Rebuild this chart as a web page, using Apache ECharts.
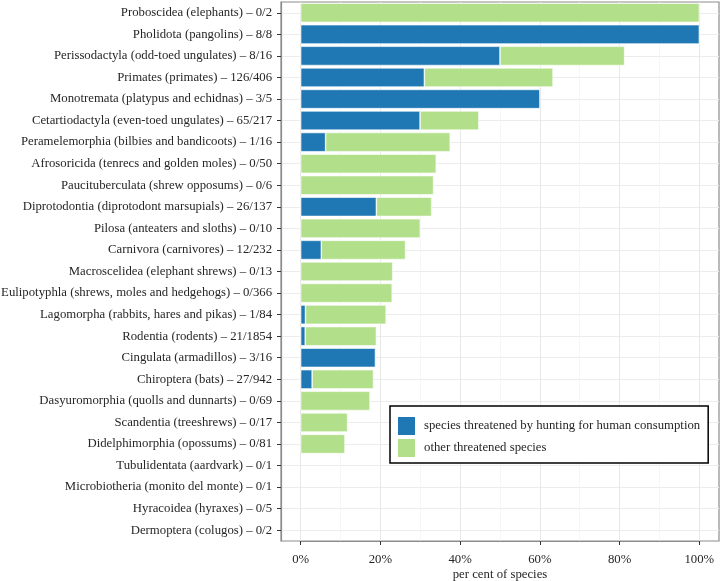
<!DOCTYPE html>
<html>
<head>
<meta charset="utf-8">
<script src="https://cdn.jsdelivr.net/npm/echarts@6/dist/echarts.min.js"></script>
<style>
  html, body { margin: 0; padding: 0; background: #fff; }
  #chart { width: 720px; height: 581px; }
</style>
</head>
<body>
<div id="chart"></div>
<script>
// orders, top to bottom
var categories = [
    'Proboscidea (elephants) – 0/2',
    'Pholidota (pangolins) – 8/8',
    'Perissodactyla (odd-toed ungulates) – 8/16',
    'Primates (primates) – 126/406',
    'Monotremata (platypus and echidnas) – 3/5',
    'Cetartiodactyla (even-toed ungulates) – 65/217',
    'Peramelemorphia (bilbies and bandicoots) – 1/16',
    'Afrosoricida (tenrecs and golden moles) – 0/50',
    'Paucituberculata (shrew opposums) – 0/6',
    'Diprotodontia (diprotodont marsupials) – 26/137',
    'Pilosa (anteaters and sloths) – 0/10',
    'Carnivora (carnivores) – 12/232',
    'Macroscelidea (elephant shrews) – 0/13',
    'Eulipotyphla (shrews, moles and hedgehogs) – 0/366',
    'Lagomorpha (rabbits, hares and pikas) – 1/84',
    'Rodentia (rodents) – 21/1854',
    'Cingulata (armadillos) – 3/16',
    'Chiroptera (bats) – 27/942',
    'Dasyuromorphia (quolls and dunnarts) – 0/69',
    'Scandentia (treeshrews) – 0/17',
    'Didelphimorphia (opossums) – 0/81',
    'Tubulidentata (aardvark) – 0/1',
    'Microbiotheria (monito del monte) – 0/1',
    'Hyracoidea (hyraxes) – 0/5',
    'Dermoptera (colugos) – 0/2'
];

// per cent of species threatened by hunting for human consumption
var hunted = [0, 100, 50, 31.03, 60, 29.95, 6.25, 0, 0, 18.98, 0, 5.17, 0,
    0, 1.19, 1.13, 18.75, 2.87, 0, 0, 0, 0, 0, 0, 0];
// per cent of species threatened by other causes
var other = [100, 0, 31.25, 32.27, 0, 14.75, 31.25, 34, 33.33, 13.87, 30, 21.12, 23.08,
    22.95, 20.24, 17.86, 0, 15.39, 17.39, 11.76, 11.11, 0, 0, 0, 0];

var xTicks = [0, 20, 40, 60, 80, 100];

var seriesNames = ['species threatened by hunting for human consumption', 'other threatened species'];
var colors = ['#1f78b4', '#b2df8a'];

var FONT = 'Liberation Serif';
var FSIZE = 12.75;
var TEXT = '#262626';
var FRAME = '#8c8c8c';
var GRID_TOP = 2, GRID_BOTTOM = 40;

// zero-length bars would still draw their outline
function skipZero(arr){
    return arr.map(function(v){ return v > 0 ? v : null; });
}

var chart = echarts.init(document.getElementById('chart'));

chart.setOption({
    animation: false,
    backgroundColor: '#fff',
    textStyle: {fontFamily: FONT},
    legend: {
        data: seriesNames,
        orient: 'vertical',
        left: 390, top: 406,
        itemWidth: 19, itemHeight: 20, itemGap: 0,
        icon: 'rect',
        padding: [9, 8, 4, 6],
        borderColor: '#000', borderWidth: 1.5,
        backgroundColor: '#fff',
        textStyle: {fontFamily: FONT, fontSize: FSIZE, color: TEXT, padding: [0, 0, 0, 3], lineHeight: 20},
        selectedMode: false
    },
    grid: [
        // panel frame, runs past 0 and 100 like ggplot's expansion
        {left: 281, right: 1, top: GRID_TOP, bottom: GRID_BOTTOM,
         show: true, borderColor: FRAME, borderWidth: 1.2,
         containLabel: false, outerBoundsMode: 'none'},
        // data area, 0..100 %
        {left: 300.7, right: 20.7, top: GRID_TOP, bottom: GRID_BOTTOM,
         containLabel: false, outerBoundsMode: 'none'}
    ],
    xAxis: [
        {gridIndex: 0, type: 'value', min: -5, max: 105, show: false},
        {
            gridIndex: 1, type: 'value', min: 0, max: 100, interval: 20,
            name: 'per cent of species', nameLocation: 'middle', nameGap: 27,
            nameMoveOverlap: false,
            nameTextStyle: {fontFamily: FONT, fontSize: FSIZE, color: TEXT},
            axisLine: {show: true, lineStyle: {color: FRAME, width: 1.2}},
            axisTick: {show: true, length: 4, lineStyle: {color: '#333'}},
            axisLabel: {
                margin: 12, fontFamily: FONT, fontSize: FSIZE, color: TEXT,
                formatter: function(v){ return xTicks.indexOf(v) >= 0 ? v + '%' : ''; }
            },
            splitLine: {show: true, lineStyle: {color: '#e8e8e8', width: 1}},
            minorTick: {show: false, splitNumber: 2},
            minorSplitLine: {show: true, lineStyle: {color: '#f2f2f2', width: 0.7}}
        }
    ],
    yAxis: [
        {
            gridIndex: 0, type: 'category', inverse: true, data: categories,
            axisLine: {show: true, onZero: false, lineStyle: {color: FRAME, width: 1.2}},
            axisTick: {show: true, length: 4, alignWithLabel: true, lineStyle: {color: '#333'}},
            axisLabel: {margin: 9, fontFamily: FONT, fontSize: FSIZE, color: TEXT, interval: 0},
            splitLine: {show: true, alignWithLabel: true, lineStyle: {color: '#ececec', width: 1}}
        },
        {gridIndex: 1, type: 'category', inverse: true, data: categories, show: false}
    ],
    series: [
        {
            name: seriesNames[0], type: 'bar', stack: 'pct',
            xAxisIndex: 1, yAxisIndex: 1,
            data: skipZero(hunted), barWidth: '89%',
            itemStyle: {color: colors[0], borderColor: '#fff', borderWidth: 0.6},
            emphasis: {disabled: true}
        },
        {
            name: seriesNames[1], type: 'bar', stack: 'pct',
            xAxisIndex: 1, yAxisIndex: 1,
            data: skipZero(other), barWidth: '89%',
            itemStyle: {color: colors[1], borderColor: '#fff', borderWidth: 0.6},
            emphasis: {disabled: true}
        }
    ]
});
</script>
</body>
</html>
